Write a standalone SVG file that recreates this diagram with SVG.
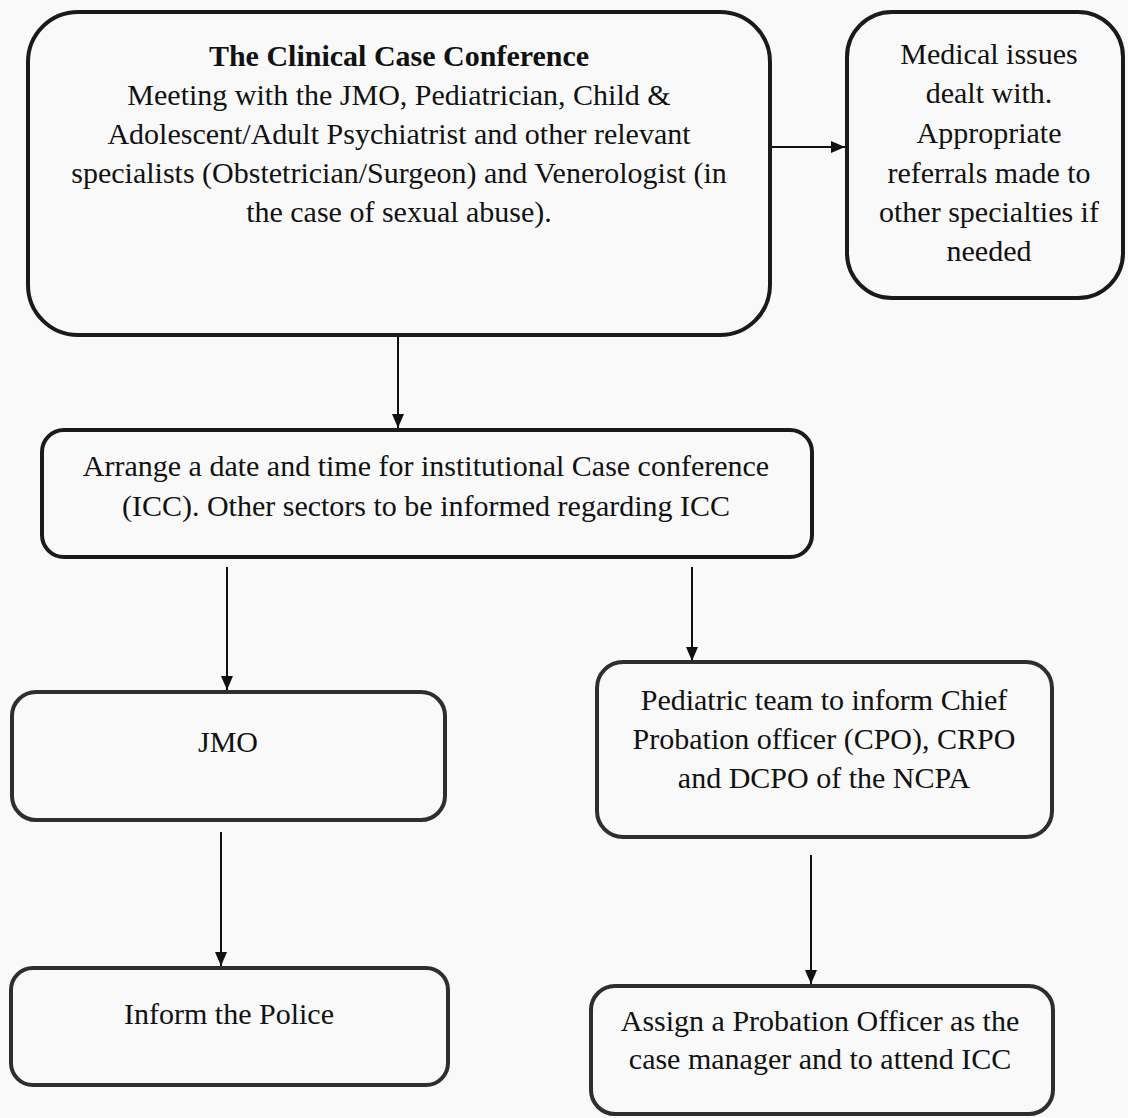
<svg xmlns="http://www.w3.org/2000/svg" width="1128" height="1118" viewBox="0 0 1128 1118">
  <defs>
    <marker id="ah" viewBox="0 0 14 12" refX="14" refY="6" markerWidth="14" markerHeight="12" markerUnits="userSpaceOnUse" orient="auto">
      <path d="M0,0 L14,6 L0,12 Z" fill="#111"/>
    </marker>
  </defs>
  <style>
    .box { fill: none; stroke: #1a1a1a; stroke-width: 4; }
    .box2 { fill: none; stroke: #2e2e2e; stroke-width: 4; }
    .t { font-family: "Liberation Serif", "Times New Roman", serif; font-size: 30px; fill: #111; text-anchor: middle; }
    .b { font-weight: bold; }
    .c { stroke: #111; stroke-width: 2; fill: none; marker-end: url(#ah); }
  </style>
  <rect width="1128" height="1118" fill="#f9f9fa"/>

  <g id="connectors">
    <line class="c" x1="770" y1="147" x2="845" y2="147"/>
    <line class="c" x1="398" y1="335" x2="398" y2="428"/>
    <line class="c" x1="227" y1="567" x2="227" y2="690"/>
    <line class="c" x1="692" y1="567" x2="692" y2="661"/>
    <line class="c" x1="221" y1="832" x2="221" y2="966"/>
    <line class="c" x1="811" y1="855" x2="811" y2="984"/>
  </g>

  <g id="clinical-case-conference">
    <rect class="box" x="28" y="12" width="742" height="323" rx="50" ry="50"/>
    <text class="t b" x="399" y="66">The Clinical Case Conference</text>
    <text class="t" x="399" y="105">Meeting with the JMO, Pediatrician, Child &amp;</text>
    <text class="t" x="399" y="144">Adolescent/Adult Psychiatrist and other relevant</text>
    <text class="t" x="399" y="183">specialists (Obstetrician/Surgeon) and Venerologist (in</text>
    <text class="t" x="399" y="222">the case of sexual abuse).</text>
  </g>

  <g id="medical-issues">
    <rect class="box" x="847" y="12" width="276" height="286" rx="45" ry="45"/>
    <text class="t" x="989" y="64">Medical issues</text>
    <text class="t" x="989" y="103">dealt with.</text>
    <text class="t" x="989" y="143">Appropriate</text>
    <text class="t" x="989" y="183">referrals made to</text>
    <text class="t" x="989" y="222">other specialties if</text>
    <text class="t" x="989" y="261">needed</text>
  </g>

  <g id="arrange-icc">
    <rect class="box" x="42" y="430" width="770" height="127" rx="22" ry="22"/>
    <text class="t" x="426" y="476">Arrange a date and time for institutional Case conference</text>
    <text class="t" x="426" y="516">(ICC). Other sectors to be informed regarding ICC</text>
  </g>

  <g id="jmo">
    <rect class="box2" x="12" y="692" width="433" height="128" rx="24" ry="24"/>
    <text class="t" x="228" y="752">JMO</text>
  </g>

  <g id="pediatric-team">
    <rect class="box2" x="597" y="662" width="455" height="175" rx="26" ry="26"/>
    <text class="t" x="824" y="710">Pediatric team to inform Chief</text>
    <text class="t" x="824" y="749">Probation officer (CPO), CRPO</text>
    <text class="t" x="824" y="788">and DCPO of the NCPA</text>
  </g>

  <g id="inform-police">
    <rect class="box2" x="11" y="968" width="437" height="117" rx="22" ry="22"/>
    <text class="t" x="229" y="1024">Inform the Police</text>
  </g>

  <g id="assign-probation-officer">
    <rect class="box2" x="591" y="986" width="462" height="128" rx="24" ry="24"/>
    <text class="t" x="820" y="1031">Assign a Probation Officer as the</text>
    <text class="t" x="820" y="1069">case manager and to attend ICC</text>
  </g>
</svg>
